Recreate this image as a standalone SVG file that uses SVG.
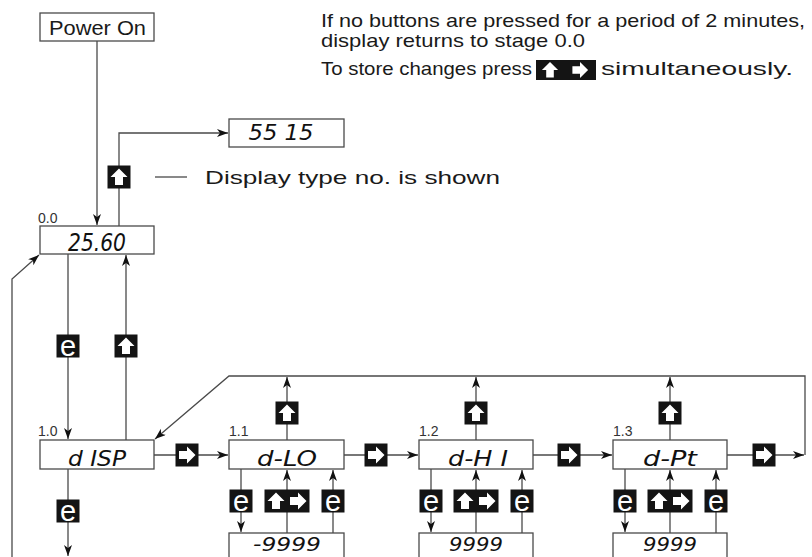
<svg xmlns="http://www.w3.org/2000/svg" width="812" height="557" viewBox="0 0 812 557">
<style>
.box{fill:#fff;stroke:#4a4a4a;stroke-width:1.3}
.ln{fill:none;stroke:#4a4a4a;stroke-width:1.3}
.lbl{font-family:"Liberation Sans",Arial,sans-serif;font-size:19px;fill:#1a1a1a}
.stg{font-family:"Liberation Sans",Arial,sans-serif;font-size:14px;fill:#333}
.seg{font-family:"DejaVu Sans Condensed","Liberation Sans Narrow","Liberation Sans",sans-serif;font-style:italic;font-size:22px;fill:#111;text-anchor:middle}
.val{font-size:19px}
.bk{fill:#141414}
.wh{fill:#fff}
.etx{font-family:"Liberation Sans",Arial,sans-serif;font-size:29px;fill:#fff;text-anchor:middle}
</style>
<defs>
<marker id="ah" markerUnits="userSpaceOnUse" markerWidth="12" markerHeight="10" refX="11" refY="4" orient="auto">
<path d="M0,0 L11,4 L0,8 L3,4 Z" fill="#111"/>
</marker>
<path id="icUp" d="M0,-8.5 L8.5,0 L4,0 L4,8 L-4,8 L-4,0 L-8.5,0 Z" class="wh"/>
<path id="icRt" d="M8.5,0 L0,8.5 L0,4 L-8,4 L-8,-4 L0,-4 L0,-8.5 Z" class="wh"/>
<g id="bUp"><rect x="-11.5" y="-11.5" width="23" height="23" class="bk"/><use href="#icUp"/></g>
<g id="bRt"><rect x="-11.5" y="-11.5" width="23" height="23" class="bk"/><use href="#icRt"/></g>
<g id="bE"><rect x="-11.5" y="-11.5" width="23" height="23" class="bk"/><text x="0" y="9.5" class="etx">e</text></g>
<g id="bUR"><rect x="-22.5" y="-11.5" width="45" height="23" class="bk"/><use href="#icUp" x="-11"/><use href="#icRt" x="11"/></g>
</defs>
<rect width="812" height="557" fill="#fff"/>

<g id="notes">
<text class="lbl" x="321" y="27" textLength="484" lengthAdjust="spacingAndGlyphs">If no buttons are pressed for a period of 2 minutes,</text>
<text class="lbl" x="321" y="47" textLength="264" lengthAdjust="spacingAndGlyphs">display returns to stage 0.0</text>
<text class="lbl" x="321" y="75" textLength="211" lengthAdjust="spacingAndGlyphs">To store changes press</text>
<g id="inline-buttons"><rect x="536" y="60" width="60" height="20" class="bk"/><use href="#icUp" transform="translate(550,70) scale(0.95)"/><use href="#icRt" transform="translate(580,70) scale(0.95)"/></g>
<text class="lbl" x="601" y="75" textLength="192" lengthAdjust="spacingAndGlyphs">simultaneously.</text>
<text class="lbl" x="205" y="184" textLength="295" lengthAdjust="spacingAndGlyphs">Display type no. is shown</text>
</g>

<g id="connectors">
<path class="ln" d="M97,41 V225" marker-end="url(#ah)"/>
<path class="ln" d="M119,226 V133 H228" marker-end="url(#ah)"/>
<path class="ln" d="M155,177 H187"/>
<path class="ln" d="M68,254 V439" marker-end="url(#ah)"/>
<path class="ln" d="M126,440 V255" marker-end="url(#ah)"/>
<path class="ln" d="M12,557 V279 L39,255" marker-end="url(#ah)"/>
<path class="ln" d="M154,455 H228" marker-end="url(#ah)"/>
<path class="ln" d="M68,469 V556" marker-end="url(#ah)"/>
<path class="ln" d="M344,455 H418" marker-end="url(#ah)"/>
<path class="ln" d="M533,455 H612" marker-end="url(#ah)"/>
<path class="ln" d="M727,455 H804" marker-end="url(#ah)"/>
<path class="ln" d="M805,455 V376 H229 L155,439" marker-end="url(#ah)"/>
<path class="ln" d="M287,440 V377" marker-end="url(#ah)"/>
<path class="ln" d="M476,440 V377" marker-end="url(#ah)"/>
<path class="ln" d="M670,440 V377" marker-end="url(#ah)"/>
<path class="ln" d="M241,469 V532" marker-end="url(#ah)"/>
<path class="ln" d="M287,533 V470" marker-end="url(#ah)"/>
<path class="ln" d="M333,533 V470" marker-end="url(#ah)"/>
<path class="ln" d="M431,469 V532" marker-end="url(#ah)"/>
<path class="ln" d="M476,533 V470" marker-end="url(#ah)"/>
<path class="ln" d="M522,533 V470" marker-end="url(#ah)"/>
<path class="ln" d="M625,469 V532" marker-end="url(#ah)"/>
<path class="ln" d="M670,533 V470" marker-end="url(#ah)"/>
<path class="ln" d="M716,533 V470" marker-end="url(#ah)"/>
</g>

<g id="buttons">
<use href="#bUp" x="119" y="177"/>
<use href="#bE" x="68" y="346"/>
<use href="#bUp" x="126" y="346"/>
<use href="#bE" x="68" y="511"/>
<use href="#bRt" x="187" y="455"/>
<use href="#bRt" x="376" y="455"/>
<use href="#bRt" x="569" y="455"/>
<use href="#bRt" x="764" y="455"/>
<use href="#bUp" x="287" y="413"/>
<use href="#bUp" x="476" y="413"/>
<use href="#bUp" x="670" y="413"/>
<use href="#bE" x="241" y="501"/>
<use href="#bUR" x="287" y="501"/>
<use href="#bE" x="333" y="501"/>
<use href="#bE" x="431" y="501"/>
<use href="#bUR" x="476" y="501"/>
<use href="#bE" x="522" y="501"/>
<use href="#bE" x="625" y="501"/>
<use href="#bUR" x="670" y="501"/>
<use href="#bE" x="716" y="501"/>
</g>

<g id="power-on">
<rect class="box" x="40" y="13" width="114" height="28"/>
<text class="lbl" x="49" y="35" textLength="97" lengthAdjust="spacingAndGlyphs" style="font-size:21px">Power On</text>
</g>
<g id="type-no">
<rect class="box" x="229" y="119" width="115" height="28"/>
<text class="seg" x="281" y="140" textLength="65" lengthAdjust="spacingAndGlyphs">55 15</text>
</g>
<g id="stage-0-0">
<text class="stg" x="38" y="223">0.0</text>
<rect class="box" x="40" y="226" width="114" height="28"/>
<text class="seg" x="97" y="251" textLength="58" lengthAdjust="spacingAndGlyphs" style="font-size:25px">25.60</text>
</g>
<g id="stage-1-0">
<text class="stg" x="38" y="436">1.0</text>
<rect class="box" x="40" y="440" width="114" height="29"/>
<text class="seg" x="97" y="466" textLength="58" lengthAdjust="spacingAndGlyphs">d ISP</text>
</g>
<g id="stage-1-1">
<text class="stg" x="229" y="436">1.1</text>
<rect class="box" x="229" y="440" width="115" height="29"/>
<text class="seg" x="287" y="466" textLength="60" lengthAdjust="spacingAndGlyphs">d-LO</text>
</g>
<g id="stage-1-2">
<text class="stg" x="419" y="436">1.2</text>
<rect class="box" x="419" y="440" width="114" height="29"/>
<text class="seg" x="478" y="466" textLength="60" lengthAdjust="spacingAndGlyphs">d-H I</text>
</g>
<g id="stage-1-3">
<text class="stg" x="613" y="436">1.3</text>
<rect class="box" x="613" y="440" width="114" height="29"/>
<text class="seg" x="670" y="466" textLength="54" lengthAdjust="spacingAndGlyphs">d-Pt</text>
</g>
<g id="value-1-1">
<rect class="box" x="229" y="533" width="115" height="40"/>
<text class="seg val" x="287" y="551" textLength="68" lengthAdjust="spacingAndGlyphs">-9999</text>
</g>
<g id="value-1-2">
<rect class="box" x="419" y="533" width="114" height="40"/>
<text class="seg val" x="476" y="551" textLength="54" lengthAdjust="spacingAndGlyphs">9999</text>
</g>
<g id="value-1-3">
<rect class="box" x="613" y="533" width="114" height="40"/>
<text class="seg val" x="670" y="551" textLength="54" lengthAdjust="spacingAndGlyphs">9999</text>
</g>
</svg>
